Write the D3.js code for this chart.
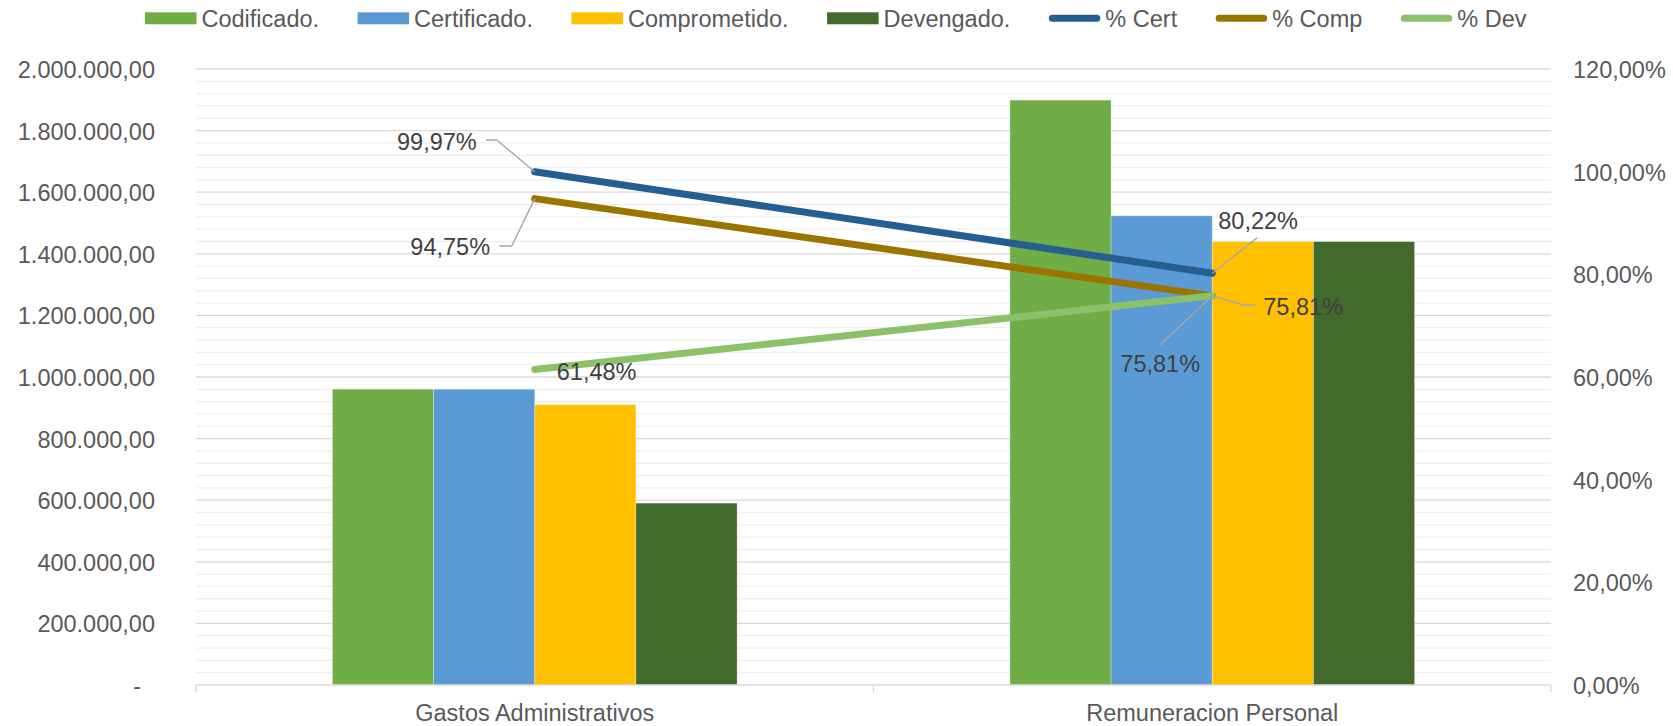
<!DOCTYPE html>
<html>
<head>
<meta charset="utf-8">
<script src="https://cdn.jsdelivr.net/npm/d3@7"></script>
<style>
  html, body { margin: 0; padding: 0; background: #fff; }
  svg { display: block; font-family: "Liberation Sans", Arial, sans-serif; }
</style>
</head>
<body>
<svg id="chart" width="1673" height="726"></svg>
<script>
// ---------------- DATA ----------------
const categories = ["Gastos Administrativos", "Remuneracion Personal"];
const barSeries = ["Codificado.", "Certificado.", "Comprometido.", "Devengado."];
const codificado   = [960500, 1899000];
const certificado  = [960200, 1523400];
const comprometido = [910070, 1439600];
const devengado    = [590500, 1439600];
const lineSeries = ["% Cert", "% Comp", "% Dev"];
const pctCert = [0.9997, 0.8022];
const pctComp = [0.9475, 0.7581];
const pctDev  = [0.6148, 0.7581];
const leftTicks  = [0, 200000, 400000, 600000, 800000, 1000000, 1200000, 1400000, 1600000, 1800000, 2000000];
const rightTicks = [0, 0.2, 0.4, 0.6, 0.8, 1.0, 1.2];

// ---------------- STYLE ----------------
const barColors  = ["#70AD47", "#5B9BD5", "#FFC000", "#436A2D"];
const lineColors = ["#255E91", "#9C7500", "#8BC168"];
const FONT = 23.5;
const axisColor = "#595959";
const labelColor = "#404040";

// label layout relative to each point: [series][category]
const labelLayout = [
  [ {anchor:"end",   dx:-58,  dy:-30.5, leader:[[-48.7,-31.8],[-38,-31.8],[0,0]]},
    {anchor:"start", dx:6,    dy:-53,   leader:[[45,-35.5],[0,0]]} ],
  [ {anchor:"end",   dx:-44.7, dy:48,   leader:[[-35.5,47.4],[-23,47.4],[0,0]]},
    {anchor:"start", dx:51,   dy:10.5,  leader:[[42.7,9.2],[31,9.2],[0,0]]} ],
  [ {anchor:"start", dx:22,   dy:2.3,   leader:null},
    {anchor:"end",   dx:-12.2, dy:67.5, leader:[[-52.2,49.2],[0,0]]} ]
];

const barValues = [codificado, certificado, comprometido, devengado];
const lineValues = [pctCert, pctComp, pctDev];

const loc = d3.formatLocale({decimal: ",", thousands: ".", grouping: [3], currency: ["$", ""], percent: "%"});
const fmtNum = loc.format(",.2f");
const fmtPct = loc.format(".2%");

const svg = d3.select("#chart");

const plotL = 196, plotR = 1551, plotT = 69, plotB = 685;

const x0 = d3.scaleBand().domain(categories).range([plotL, plotR]).paddingInner(0).paddingOuter(0);
const groupW = x0.bandwidth() * 0.5973;
const x1 = d3.scaleBand().domain(barSeries).range([0, groupW]);
const yL = d3.scaleLinear().domain([0, 2000000]).range([plotB, plotT]);
const yR = d3.scaleLinear().domain([0, 1.2]).range([plotB, plotT]);

// minor gridlines
const minorTicks = d3.range(0, 2000001, 40000).filter(v => v % 200000 !== 0);
svg.append("g").selectAll("line").data(minorTicks).join("line")
  .attr("x1", plotL).attr("x2", plotR)
  .attr("y1", d => yL(d)).attr("y2", d => yL(d))
  .attr("stroke", "#EFEFEF").attr("stroke-width", 1.3);
// major gridlines
svg.append("g").selectAll("line").data(leftTicks.filter(v => v > 0)).join("line")
  .attr("x1", plotL).attr("x2", plotR)
  .attr("y1", d => yL(d)).attr("y2", d => yL(d))
  .attr("stroke", "#D9D9D9").attr("stroke-width", 1.3);

// bars
const gBars = svg.append("g");
barSeries.forEach((s, si) => {
  gBars.append("g").selectAll("rect").data(categories).join("rect")
    .attr("x", c => x0(c) + (x0.bandwidth() - groupW) / 2 + x1(s))
    .attr("width", x1.bandwidth())
    .attr("y", (c, i) => yL(barValues[si][i]))
    .attr("height", (c, i) => yL(0) - yL(barValues[si][i]))
    .attr("fill", barColors[si])
    .attr("stroke", "#ffffff").attr("stroke-opacity", 0.35).attr("stroke-width", 0.8);
});

// bottom axis baseline & boundary ticks
svg.append("line").attr("x1", plotL).attr("x2", plotR).attr("y1", plotB).attr("y2", plotB)
  .attr("stroke", "#D9D9D9").attr("stroke-width", 1.3);
const bounds = [x0(categories[0])].concat(categories.map(c => x0(c) + x0.bandwidth()));
svg.append("g").selectAll("line").data(bounds).join("line")
  .attr("x1", d => d).attr("x2", d => d).attr("y1", plotB).attr("y2", plotB + 7)
  .attr("stroke", "#D9D9D9").attr("stroke-width", 1.3);

const xAxis = svg.append("g").attr("transform", `translate(0,${plotB})`)
  .call(d3.axisBottom(x0).tickSize(0).tickPadding(19));
xAxis.select(".domain").remove();
xAxis.selectAll("text").attr("font-size", FONT).attr("fill", axisColor).attr("font-family", "Liberation Sans, Arial, sans-serif");

// left axis
const yAxisL = svg.append("g").attr("transform", `translate(${plotL},0)`)
  .call(d3.axisLeft(yL).tickValues(leftTicks).tickSize(0).tickPadding(41)
    .tickFormat(d => d === 0 ? "-" : fmtNum(d)));
yAxisL.select(".domain").remove();
yAxisL.selectAll("text").attr("font-size", FONT).attr("fill", axisColor).attr("dy", "0.36em")
  .attr("font-family", "Liberation Sans, Arial, sans-serif");
yAxisL.selectAll(".tick").filter(d => d === 0).select("text").attr("x", -55);

// right axis
const yAxisR = svg.append("g").attr("transform", `translate(${plotR},0)`)
  .call(d3.axisRight(yR).tickValues(rightTicks).tickSize(0).tickPadding(22).tickFormat(fmtPct));
yAxisR.select(".domain").remove();
yAxisR.selectAll("text").attr("font-size", FONT).attr("fill", axisColor).attr("dy", "0.36em")
  .attr("font-family", "Liberation Sans, Arial, sans-serif");

// lines
const cx = c => x0(c) + x0.bandwidth() / 2;
lineSeries.forEach((s, si) => {
  const pts = categories.map((c, i) => [cx(c), yR(lineValues[si][i])]);
  svg.append("path").attr("d", d3.line()(pts))
    .attr("fill", "none").attr("stroke", lineColors[si]).attr("stroke-width", 7)
    .attr("stroke-linecap", "round").attr("stroke-linejoin", "round");
});

// leader lines and labels
const gLab = svg.append("g");
lineSeries.forEach((s, si) => {
  categories.forEach((c, ci) => {
    const px = cx(c), py = yR(lineValues[si][ci]);
    const L = labelLayout[si][ci];
    if (L.leader) {
      gLab.append("path")
        .attr("d", d3.line()(L.leader.map(p => [px + p[0], py + p[1]])))
        .attr("fill", "none").attr("stroke", "#A6A6A6").attr("stroke-width", 1.4);
    }
  });
});
lineSeries.forEach((s, si) => {
  categories.forEach((c, ci) => {
    const px = cx(c), py = yR(lineValues[si][ci]);
    const L = labelLayout[si][ci];
    gLab.append("text")
      .attr("x", px + L.dx).attr("y", py + L.dy).attr("dy", "0.36em")
      .attr("text-anchor", L.anchor)
      .attr("font-size", FONT).attr("fill", labelColor)
      .text(fmtPct(lineValues[si][ci]));
  });
});

// legend
const legendItems = barSeries.map((s, i) => ({name: s, type: "rect", color: barColors[i]}))
  .concat(lineSeries.map((s, i) => ({name: s, type: "line", color: lineColors[i]})));
const gLeg = svg.append("g");
let lx = 145;
const legY = 18.3;
legendItems.forEach(it => {
  if (it.type === "rect") {
    gLeg.append("rect").attr("x", lx).attr("y", legY - 6).attr("width", 51.5).attr("height", 12).attr("fill", it.color);
  } else {
    gLeg.append("line").attr("x1", lx + 3.5).attr("x2", lx + 51.5 - 3.5).attr("y1", legY).attr("y2", legY)
      .attr("stroke", it.color).attr("stroke-width", 7).attr("stroke-linecap", "round");
  }
  const t = gLeg.append("text").attr("x", lx + 56.5).attr("y", legY).attr("dy", "0.36em")
    .attr("font-size", FONT).attr("fill", axisColor).text(it.name);
  lx = lx + 56.5 + t.node().getComputedTextLength() + 38.5;
});
</script>
</body>
</html>
